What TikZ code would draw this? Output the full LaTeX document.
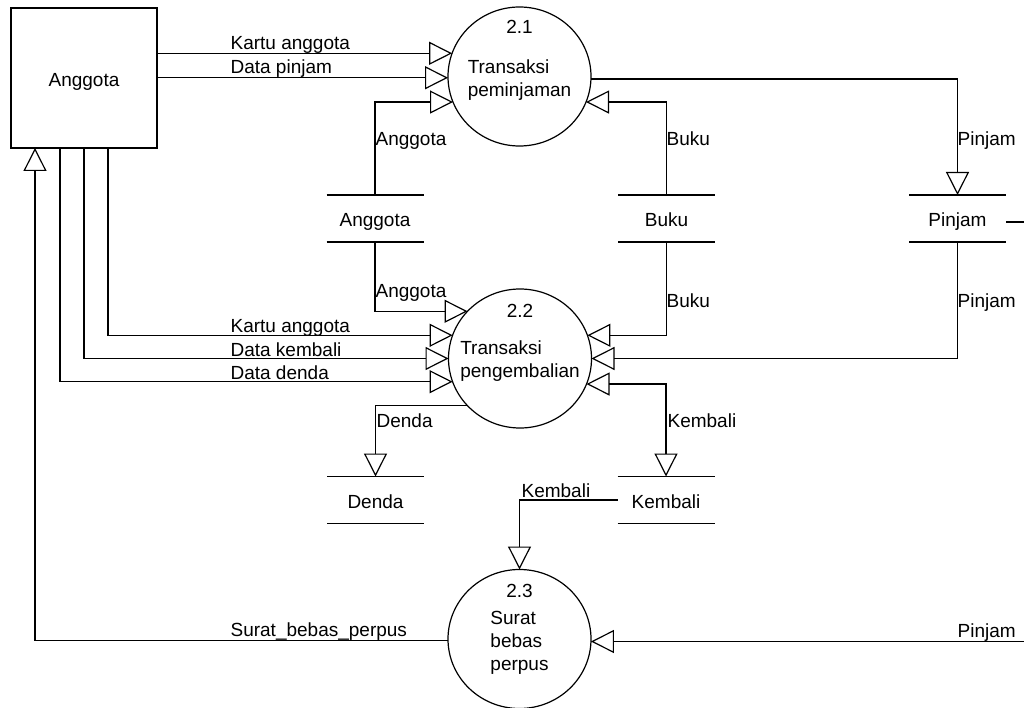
\documentclass[tikz,border=0pt]{standalone}
\usepackage{fontspec}
\setmainfont{Liberation Sans}
\usetikzlibrary{arrows.meta,shapes.geometric}

\tikzset{
  entity/.style={draw, minimum width=146pt, minimum height=140pt, inner sep=0pt, outer sep=0pt,
    text height=21pt, text depth=4pt},
  proc/.style={draw, ellipse, minimum width=143pt, minimum height=139pt, inner sep=0pt, outer sep=0pt},
  store/.style={minimum width=97pt, minimum height=47pt, inner sep=0pt, outer sep=0pt,
    text height=21pt, text depth=4pt,
    append after command={(\tikzlastnode.north west) edge (\tikzlastnode.north east)
      (\tikzlastnode.south west) edge (\tikzlastnode.south east)}},
  flow/.style={-{Triangle[open, length=23pt, width=23pt]}},
  twoway/.style={{Triangle[open, length=23pt, width=23pt]}-{Triangle[open, length=23pt, width=23pt]}},
  lbl/.style={anchor=base west, inner sep=0pt},
  ptext/.style={anchor=base, align=left, inner sep=0pt},
}

\begin{document}
\begin{tikzpicture}[x=1pt, y=-1pt, line width=1.2pt, font=\fontsize{19}{23}\selectfont]
\clip (0,0) rectangle (1024,708);

% external entity
\node[entity] (ent) at (84,78) {Anggota};

% processes
\node[proc] (p21) at (519.5,76.5) {};
\node[proc] (p22) at (520,358.5) {};
\node[proc] (p23) at (519.5,639) {};
\node[ptext] (n21) at ([yshift=42.5pt]p21.center) {2.1};
\node[ptext] (t21) at ([yshift=-20.5pt]p21.center) {Transaksi\\peminjaman};
\node[ptext] (n22) at ([yshift=41.5pt]p22.center) {2.2};
\node[ptext] (t22) at ([yshift=-18.5pt]p22.center) {Transaksi\\pengembalian};
\node[ptext] (n23) at ([yshift=42pt]p23.center) {2.3};
\node[ptext] (t23) at ([yshift=-31pt]p23.center) {Surat\\bebas\\perpus};

% data stores
\node[store] (sA) at (375,218.5) {Anggota};
\node[store] (sB) at (666.5,218.5) {Buku};
\node[store] (sP) at (957.5,218.5) {Pinjam};
\node[store] (sD) at (375.5,500) {Denda};
\node[store] (sK) at (666,500) {Kembali};

% flows into 2.1
\draw[flow] (ent.east |- p21.161.6) -- (p21.161.6);
\draw[flow] (ent.east |- p21.181.2) -- (p21.181.2);
\draw[flow] (sA.north) |- (p21.201);
\draw[flow] (sB.north) |- (p21.339);
\draw[flow] (p21.358.8) -| (sP.north);

% flows into 2.2
\draw[flow] (sA.south) |- (p22.138.8);
\draw[flow] ([xshift=24pt]ent.south) |- (p22.161.6);
\draw[flow] (ent.south) |- (p22.180.4);
\draw[flow] ([xshift=-24pt]ent.south) |- (p22.199.3);
\draw[flow] (sB.south) |- (p22.19.3);
\draw[flow] (sP.south) |- (p22.0.4);
\draw[twoway] (p22.339.9) -| (sK.north);
\draw[flow] (p22.222.3) -| (sD.north);

% flows around 2.3
\draw[flow] (sK.west) -| (p23.north);
\draw[flow] (p23.181) -| ([xshift=-49pt]ent.south);
\draw[flow] ([yshift=-3.5pt]sP.east) -- ++(40,0) |- (p23.358);

% flow labels
\node[lbl] (lka1) at (230,50) {Kartu anggota};
\node[lbl] (ldp) at (230,74) {Data pinjam};
\node[lbl] (lang1) at (375,146) {Anggota};
\node[lbl] (lbuk1) at (666,146) {Buku};
\node[lbl] (lpin1) at (957,146) {Pinjam};
\node[lbl] (lang2) at (375,298) {Anggota};
\node[lbl] (lbuk2) at (666,308) {Buku};
\node[lbl] (lpin2) at (957,308) {Pinjam};
\node[lbl] (lka2) at (230,332) {Kartu anggota};
\node[lbl] (ldk) at (230,356) {Data kembali};
\node[lbl] (ldd) at (230,379) {Data denda};
\node[lbl] (lden) at (376,427) {Denda};
\node[lbl] (lkem1) at (667,427) {Kembali};
\node[lbl] (lkem2) at (521,497) {Kembali};
\node[lbl] (lsbp) at (230,636) {Surat\_bebas\_perpus};
\node[lbl] (lpin3) at (957,637) {Pinjam};
\end{tikzpicture}
\end{document}
